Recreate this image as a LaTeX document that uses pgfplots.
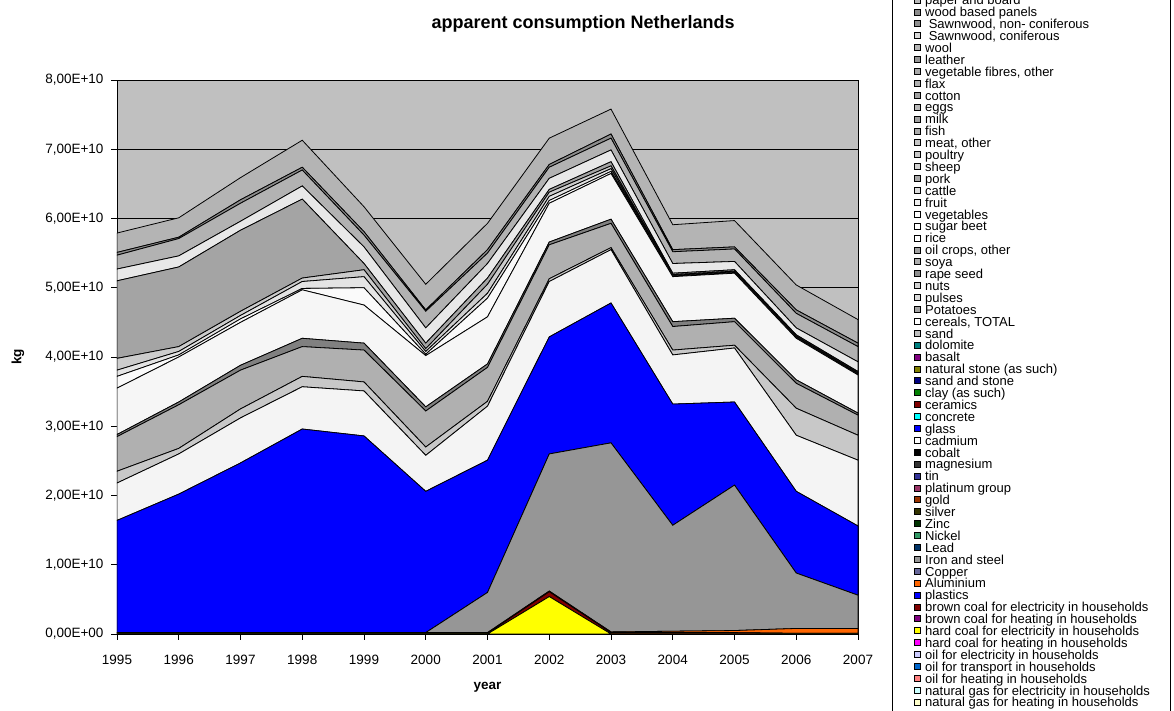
\documentclass[border=0pt]{standalone}
\usepackage{pgfplots}
\pgfplotsset{compat=1.18}
\usepackage{pgfplotstable}
\usepackage{fontspec}
\setmainfont{Liberation Sans}

% layer colours (bottom to top)
\definecolor{plotbg}{HTML}{C0C0C0}
\definecolor{cA}{HTML}{FFFF00}
\definecolor{cB}{HTML}{800000}
\definecolor{cC}{HTML}{FF6600}
\definecolor{cD}{HTML}{969696}
\definecolor{cE}{HTML}{0000FF}
\definecolor{cF}{HTML}{F4F4F4}
\definecolor{cG}{HTML}{C8C8C8}
\definecolor{cH}{HTML}{B0B0B0}
\definecolor{cI}{HTML}{808080}
\definecolor{cJ}{HTML}{F6F6F6}
\definecolor{cKa}{HTML}{FAFAFA}
\definecolor{cKb}{HTML}{E4E4E4}
\definecolor{cKc}{HTML}{CCCCCC}
\definecolor{cL}{HTML}{A4A4A4}
\definecolor{cM}{HTML}{E8E8E8}
\definecolor{cN}{HTML}{B2B2B2}
\definecolor{cO}{HTML}{8C8C8C}
\definecolor{cP}{HTML}{B4B4B4}
% legend-only colours
\definecolor{teal}{HTML}{008080}
\definecolor{purp}{HTML}{800080}
\definecolor{olive}{HTML}{808000}
\definecolor{navy}{HTML}{000080}
\definecolor{grn}{HTML}{008000}
\definecolor{maroon}{HTML}{800000}
\definecolor{aqua}{HTML}{00FFFF}
\definecolor{mag}{HTML}{333333}
\definecolor{tin}{HTML}{333399}
\definecolor{plat}{HTML}{993366}
\definecolor{gold}{HTML}{993300}
\definecolor{silv}{HTML}{333300}
\definecolor{zinc}{HTML}{003300}
\definecolor{nick}{HTML}{339966}
\definecolor{lead}{HTML}{003366}
\definecolor{copp}{HTML}{666699}
\definecolor{hcheat}{HTML}{FF00FF}
\definecolor{oilel}{HTML}{CCCCFF}
\definecolor{oiltr}{HTML}{0066CC}
\definecolor{oilht}{HTML}{FF8080}
\definecolor{ngel}{HTML}{CCFFFF}
\definecolor{NGht}{HTML}{FFFFCC}

% apparent consumption, units of 1e10 kg, one column per visible layer
\pgfplotstableread{
year A    B    C    D    E    F    G    H    I    J    Ka   Kb   Kc   L    M    N    O    P
1995 0    0.01 0.01 0    1.62 0.54 0.17 0.50 0.03 0.67 0.17 0.09 0.17 1.12 0.17 0.20 0.04 0.28
1996 0    0.01 0.01 0    2.00 0.58 0.08 0.63 0.04 0.65 0.03 0.05 0.07 1.15 0.16 0.25 0.02 0.28
1997 0    0.01 0.01 0    2.45 0.65 0.13 0.56 0.07 0.62 0.05 0.05 0.06 1.17 0.13 0.26 0.05 0.32
1998 0    0.01 0.01 0    2.94 0.61 0.15 0.43 0.12 0.70 0.02 0.10 0.05 1.14 0.19 0.23 0.04 0.39
1999 0    0.01 0.01 0    2.84 0.65 0.13 0.46 0.10 0.55 0.25 0.16 0.10 0.09 0.24 0.17 0.05 0.36
2000 0    0.01 0.01 0    2.04 0.52 0.12 0.52 0.06 0.74 0.02 0.04 0.04 0.08 0.22 0.24 0.02 0.37
2001 0    0.01 0.01 0.58 1.91 0.78 0.07 0.49 0.05 0.68 0.27 0.07 0.13 0.09 0.21 0.15 0.05 0.38
2002 0.54 0.07 0.01 1.98 1.69 0.80 0.04 0.49 0.04 0.56 0.04 0.06 0.06 0.04 0.16 0.16 0.04 0.38
2003 0    0.02 0.01 2.73 2.02 0.77 0.03 0.35 0.06 0.66 0.03 0.04 0.04 0.06 0.17 0.17 0.06 0.36
2004 0    0.02 0.02 1.53 1.75 0.71 0.07 0.34 0.07 0.65 0.01 0.01 0.01 0.02 0.14 0.17 0.03 0.36
2005 0    0.02 0.03 2.10 1.20 0.78 0.04 0.34 0.05 0.65 0.01 0.01 0.01 0.02 0.12 0.18 0.03 0.38
2006 0    0.01 0.07 0.80 1.18 0.81 0.39 0.36 0.05 0.60 0.01 0.01 0.01 0.02 0.10 0.21 0.05 0.36
2007 0    0.01 0.07 0.48 1.00 0.95 0.36 0.29 0.03 0.55 0.01 0.01 0.01 0.02 0.14 0.22 0.05 0.34
}\consdata

\newcommand{\leg}[2]{\addlegendimage{fill=#1}\addlegendentry{#2}}
\newcommand{\layer}[2]{\addplot[fill=#2, draw=black, line width=0.8pt, forget plot] table[x=year, y=#1] {\consdata} \closedcycle;}

\begin{document}
\begin{tikzpicture}
\begin{axis}[
    at={(0,0)}, anchor=south west,
    width=741pt, height=554pt, scale only axis,
    xmin=1995, xmax=2007, ymin=0, ymax=8,
    stack plots=y,
    axis background/.style={fill=plotbg},
    xtick={1995,1996,1997,1998,1999,2000,2001,2002,2003,2004,2005,2006,2007},
    xticklabels={1995,1996,1997,1998,1999,2000,2001,2002,2003,2004,2005,2006,2007},
    ytick={0,1,2,3,4,5,6,7,8},
    yticklabels={{0,00E+00},{1,00E+10},{2,00E+10},{3,00E+10},{4,00E+10},{5,00E+10},{6,00E+10},{7,00E+10},{8,00E+10}},
    tick pos=left, tick align=outside, major tick length=6pt,
    tick style={black, line width=0.6pt},
    ymajorgrids, grid style={black, line width=0.6pt},
    axis line style={black, line width=0.8pt},
    ticklabel style={font=\fontsize{13.5}{16}\selectfont},
    xticklabel style={yshift=-12pt},
    yticklabel style={xshift=-4pt},
    title={apparent consumption Netherlands},
    title style={font=\bfseries\fontsize{18}{21}\selectfont, at={(axis description cs:0.629,1)}, anchor=center, yshift=50pt},
    xlabel={year},
    xlabel style={font=\bfseries\fontsize{13.5}{16}\selectfont, at={(axis description cs:0.5,-0.0957)}, anchor=center},
    ylabel={kg},
    ylabel style={font=\bfseries\fontsize{13.5}{16}\selectfont, at={(axis description cs:-0.1336,0.5)}, anchor=center},
    legend image code/.code={\draw[#1, draw=black, line width=0.7pt] (0pt,-0.5pt) rectangle (6pt,5.5pt);},
    legend cell align=left,
    legend style={at={(axis description cs:1.04588,1.15884)}, anchor=north west,
        draw=black, line width=1pt, fill=white,
        inner xsep=21pt, inner ysep=4pt,
        /tikz/row sep=0pt, /tikz/column sep=5pt,
        font=\fontsize{13}{11.9}\selectfont,
        nodes={inner sep=0pt, text height=8.3pt, text depth=3.6pt}},
]
\layer{A}{cA}
\layer{B}{cB}
\layer{C}{cC}
\layer{D}{cD}
\layer{E}{cE}
\layer{F}{cF}
\layer{G}{cG}
\layer{H}{cH}
\layer{I}{cI}
\layer{J}{cJ}
\layer{Ka}{cKa}
\layer{Kb}{cKb}
\layer{Kc}{cKc}
\layer{L}{cL}
\layer{M}{cM}
\layer{N}{cN}
\layer{O}{cO}
\layer{P}{cP}

\leg{black!28}{paper and board}
\leg{black!45}{wood based panels}
\leg{black!44}{\ Sawnwood, non- coniferous}
\leg{black!15}{\ Sawnwood, coniferous}
\leg{black!29}{wool}
\leg{black!41}{leather}
\leg{black!34}{vegetable fibres, other}
\leg{black!31}{flax}
\leg{black!37}{cotton}
\leg{black!28}{eggs}
\leg{black!37}{milk}
\leg{black!33}{fish}
\leg{black!22}{meat, other}
\leg{black!22}{poultry}
\leg{black!18}{sheep}
\leg{black!34}{pork}
\leg{black!14}{cattle}
\leg{black!6}{fruit}
\leg{white}{vegetables}
\leg{white}{sugar beet}
\leg{white}{rice}
\leg{black!37}{oil crops, other}
\leg{black!32}{soya}
\leg{black!44}{rape seed}
\leg{black!18}{nuts}
\leg{black!15}{pulses}
\leg{black!37}{Potatoes}
\leg{white}{cereals, TOTAL}
\leg{black!25}{sand}
\leg{teal}{dolomite}
\leg{purp}{basalt}
\leg{olive}{natural stone (as such)}
\leg{navy}{sand and stone}
\leg{grn}{clay (as such)}
\leg{maroon}{ceramics}
\leg{aqua}{concrete}
\leg{cE}{glass}
\leg{white}{cadmium}
\leg{black}{cobalt}
\leg{mag}{magnesium}
\leg{tin}{tin}
\leg{plat}{platinum group}
\leg{gold}{gold}
\leg{silv}{silver}
\leg{zinc}{Zinc}
\leg{nick}{Nickel}
\leg{lead}{Lead}
\leg{cD}{Iron and steel}
\leg{copp}{Copper}
\leg{cC}{Aluminium}
\leg{cE}{plastics}
\leg{cB}{brown coal for electricity in households}
\leg{purp}{brown coal for heating in households}
\leg{cA}{hard coal for electricity in households}
\leg{hcheat}{hard coal for heating in households}
\leg{oilel}{oil for electricity in households}
\leg{oiltr}{oil for transport in households}
\leg{oilht}{oil for heating in households}
\leg{ngel}{natural gas for electricity in households}
\leg{NGht}{natural gas for heating in households}
\end{axis}
\pgfresetboundingbox
\path (-117pt,-77pt) rectangle (1057pt,634pt);
\end{tikzpicture}
\end{document}
